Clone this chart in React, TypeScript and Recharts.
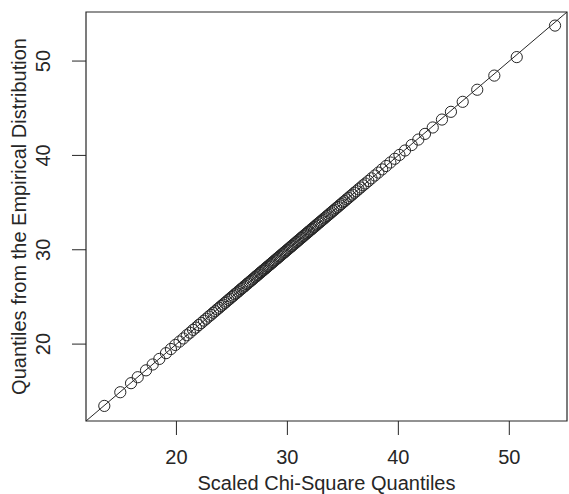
import { ScatterChart, Scatter, XAxis, YAxis, ReferenceLine, ReferenceArea } from 'recharts'

// scaled chi-square quantiles (x) against empirical quantiles (y)
const chiSquareQuantiles = [
  13.50, 14.94, 15.91, 16.51, 17.26, 17.86, 18.46, 19.06, 19.50, 19.90,
  20.28, 20.62, 20.93, 21.22, 21.50, 21.76, 22.01, 22.25, 22.48, 22.70,
  22.91, 23.11, 23.31, 23.50, 23.68, 23.86, 24.03, 24.20, 24.36, 24.52,
  24.68, 24.83, 24.98, 25.13, 25.27, 25.41, 25.55, 25.69, 25.82, 25.95,
  26.08, 26.21, 26.34, 26.46, 26.58, 26.70, 26.82, 26.94, 27.06, 27.18,
  27.29, 27.40, 27.52, 27.63, 27.74, 27.85, 27.96, 28.07, 28.18, 28.29,
  28.40, 28.51, 28.61, 28.72, 28.83, 28.94, 29.04, 29.15, 29.26, 29.36,
  29.47, 29.58, 29.68, 29.79, 29.90, 30.00, 30.11, 30.22, 30.33, 30.43,
  30.54, 30.65, 30.76, 30.87, 30.98, 31.09, 31.20, 31.31, 31.42, 31.53,
  31.64, 31.76, 31.87, 31.98, 32.10, 32.22, 32.33, 32.45, 32.57, 32.69,
  32.81, 32.94, 33.06, 33.19, 33.31, 33.44, 33.57, 33.71, 33.84, 33.98,
  34.12, 34.26, 34.40, 34.55, 34.70, 34.85, 35.01, 35.17, 35.33, 35.50,
  35.67, 35.85, 36.03, 36.22, 36.41, 36.61, 36.82, 37.03, 37.30, 37.58,
  37.88, 38.20, 38.54, 38.90, 39.28, 39.68, 40.10, 40.60, 41.20, 41.80,
  42.40, 43.10, 43.93, 44.74, 45.80, 47.11, 48.65, 50.67, 54.12,
]

const empiricalQuantiles = [
  13.45, 14.90, 15.86, 16.49, 17.22, 17.84, 18.43, 19.04, 19.48, 19.91,
  20.27, 20.60, 20.94, 21.21, 21.51, 21.75, 22.02, 22.24, 22.49, 22.69,
  22.92, 23.10, 23.32, 23.49, 23.69, 23.85, 24.04, 24.19, 24.37, 24.51,
  24.69, 24.82, 24.99, 25.12, 25.28, 25.40, 25.56, 25.68, 25.83, 25.94,
  26.09, 26.20, 26.35, 26.45, 26.59, 26.69, 26.83, 26.93, 27.07, 27.17,
  27.30, 27.39, 27.53, 27.62, 27.75, 27.84, 27.97, 28.06, 28.19, 28.28,
  28.41, 28.50, 28.62, 28.71, 28.84, 28.93, 29.05, 29.14, 29.27, 29.35,
  29.48, 29.57, 29.69, 29.78, 29.91, 29.99, 30.12, 30.21, 30.34, 30.42,
  30.55, 30.64, 30.77, 30.86, 30.99, 31.08, 31.21, 31.30, 31.43, 31.52,
  31.65, 31.75, 31.88, 31.97, 32.11, 32.21, 32.34, 32.44, 32.58, 32.68,
  32.82, 32.93, 33.07, 33.18, 33.32, 33.43, 33.58, 33.70, 33.85, 33.97,
  34.13, 34.25, 34.41, 34.54, 34.71, 34.84, 35.02, 35.16, 35.34, 35.49,
  35.68, 35.84, 36.04, 36.21, 36.42, 36.60, 36.83, 37.02, 37.29, 37.57,
  37.87, 38.18, 38.52, 38.88, 39.25, 39.64, 40.05, 40.52, 41.10, 41.68,
  42.28, 42.96, 43.80, 44.62, 45.68, 46.96, 48.46, 50.42, 53.76,
]

const X_TICKS = [20, 30, 40, 50]
const Y_TICKS = [20, 30, 40, 50]
const AXIS_MIN = 11.85
const AXIS_MAX = 55.2

const INK = '#262626'
const FONT = '"Liberation Sans", Arial, Helvetica, sans-serif'

const points = chiSquareQuantiles.map((x, i) => ({ x, y: empiricalQuantiles[i] }))

function OpenCircle(props: any) {
  const { cx, cy } = props
  if (cx == null || cy == null) return null
  return <circle cx={cx} cy={cy} r={5.6} fill="none" stroke={INK} strokeWidth={1} />
}

// R draws y tick labels parallel to the axis
function RotatedYTick(props: any) {
  const { x, y, payload } = props
  return (
    <text
      x={x}
      y={y}
      transform={`rotate(-90, ${x}, ${y})`}
      textAnchor="middle"
      fontSize={20}
      fontFamily={FONT}
      fill={INK}
    >
      {payload.value}
    </text>
  )
}

function YTitle(props: any) {
  const vb = props.viewBox || {}
  const cy = (vb.y ?? 12) + (vb.height ?? 409) / 2
  const cx = 26
  return (
    <text
      x={cx}
      y={cy}
      transform={`rotate(-90, ${cx}, ${cy})`}
      textAnchor="middle"
      fontSize={20}
      fontFamily={FONT}
      fill={INK}
    >
      Quantiles from the Empirical Distribution
    </text>
  )
}

export default function App() {
  return (
    <div style={{ position: 'absolute', left: 0, top: 0, background: '#fff' }}>
      <ScatterChart width={569} height={494} margin={{ top: 12, right: 2, bottom: 0, left: 0 }}>
        <XAxis
          type="number"
          dataKey="x"
          domain={[AXIS_MIN, AXIS_MAX]}
          ticks={X_TICKS}
          allowDataOverflow
          height={73}
          axisLine={false}
          tickSize={14}
          tickMargin={15}
          tickLine={{ stroke: INK }}
          tick={{ fontSize: 20, fontFamily: FONT, fill: INK }}
          label={{
            value: 'Scaled Chi-Square Quantiles',
            position: 'insideBottom',
            offset: 4,
            fontSize: 20,
            fontFamily: FONT,
            fill: INK,
          }}
        />
        <YAxis
          type="number"
          dataKey="y"
          domain={[AXIS_MIN, AXIS_MAX]}
          ticks={Y_TICKS}
          allowDataOverflow
          width={86}
          axisLine={false}
          tickSize={14}
          tickMargin={22}
          tickLine={{ stroke: INK }}
          tick={<RotatedYTick />}
          label={<YTitle />}
        />
        <ReferenceArea
          x1={AXIS_MIN}
          x2={AXIS_MAX}
          y1={AXIS_MIN}
          y2={AXIS_MAX}
          fill="none"
          stroke={INK}
          strokeWidth={1.2}
        />
        <ReferenceLine
          segment={[{ x: AXIS_MIN, y: AXIS_MIN }, { x: AXIS_MAX, y: AXIS_MAX }]}
          stroke={INK}
          strokeWidth={1}
        />
        <Scatter data={points} shape={<OpenCircle />} isAnimationActive={false} />
      </ScatterChart>
    </div>
  )
}
